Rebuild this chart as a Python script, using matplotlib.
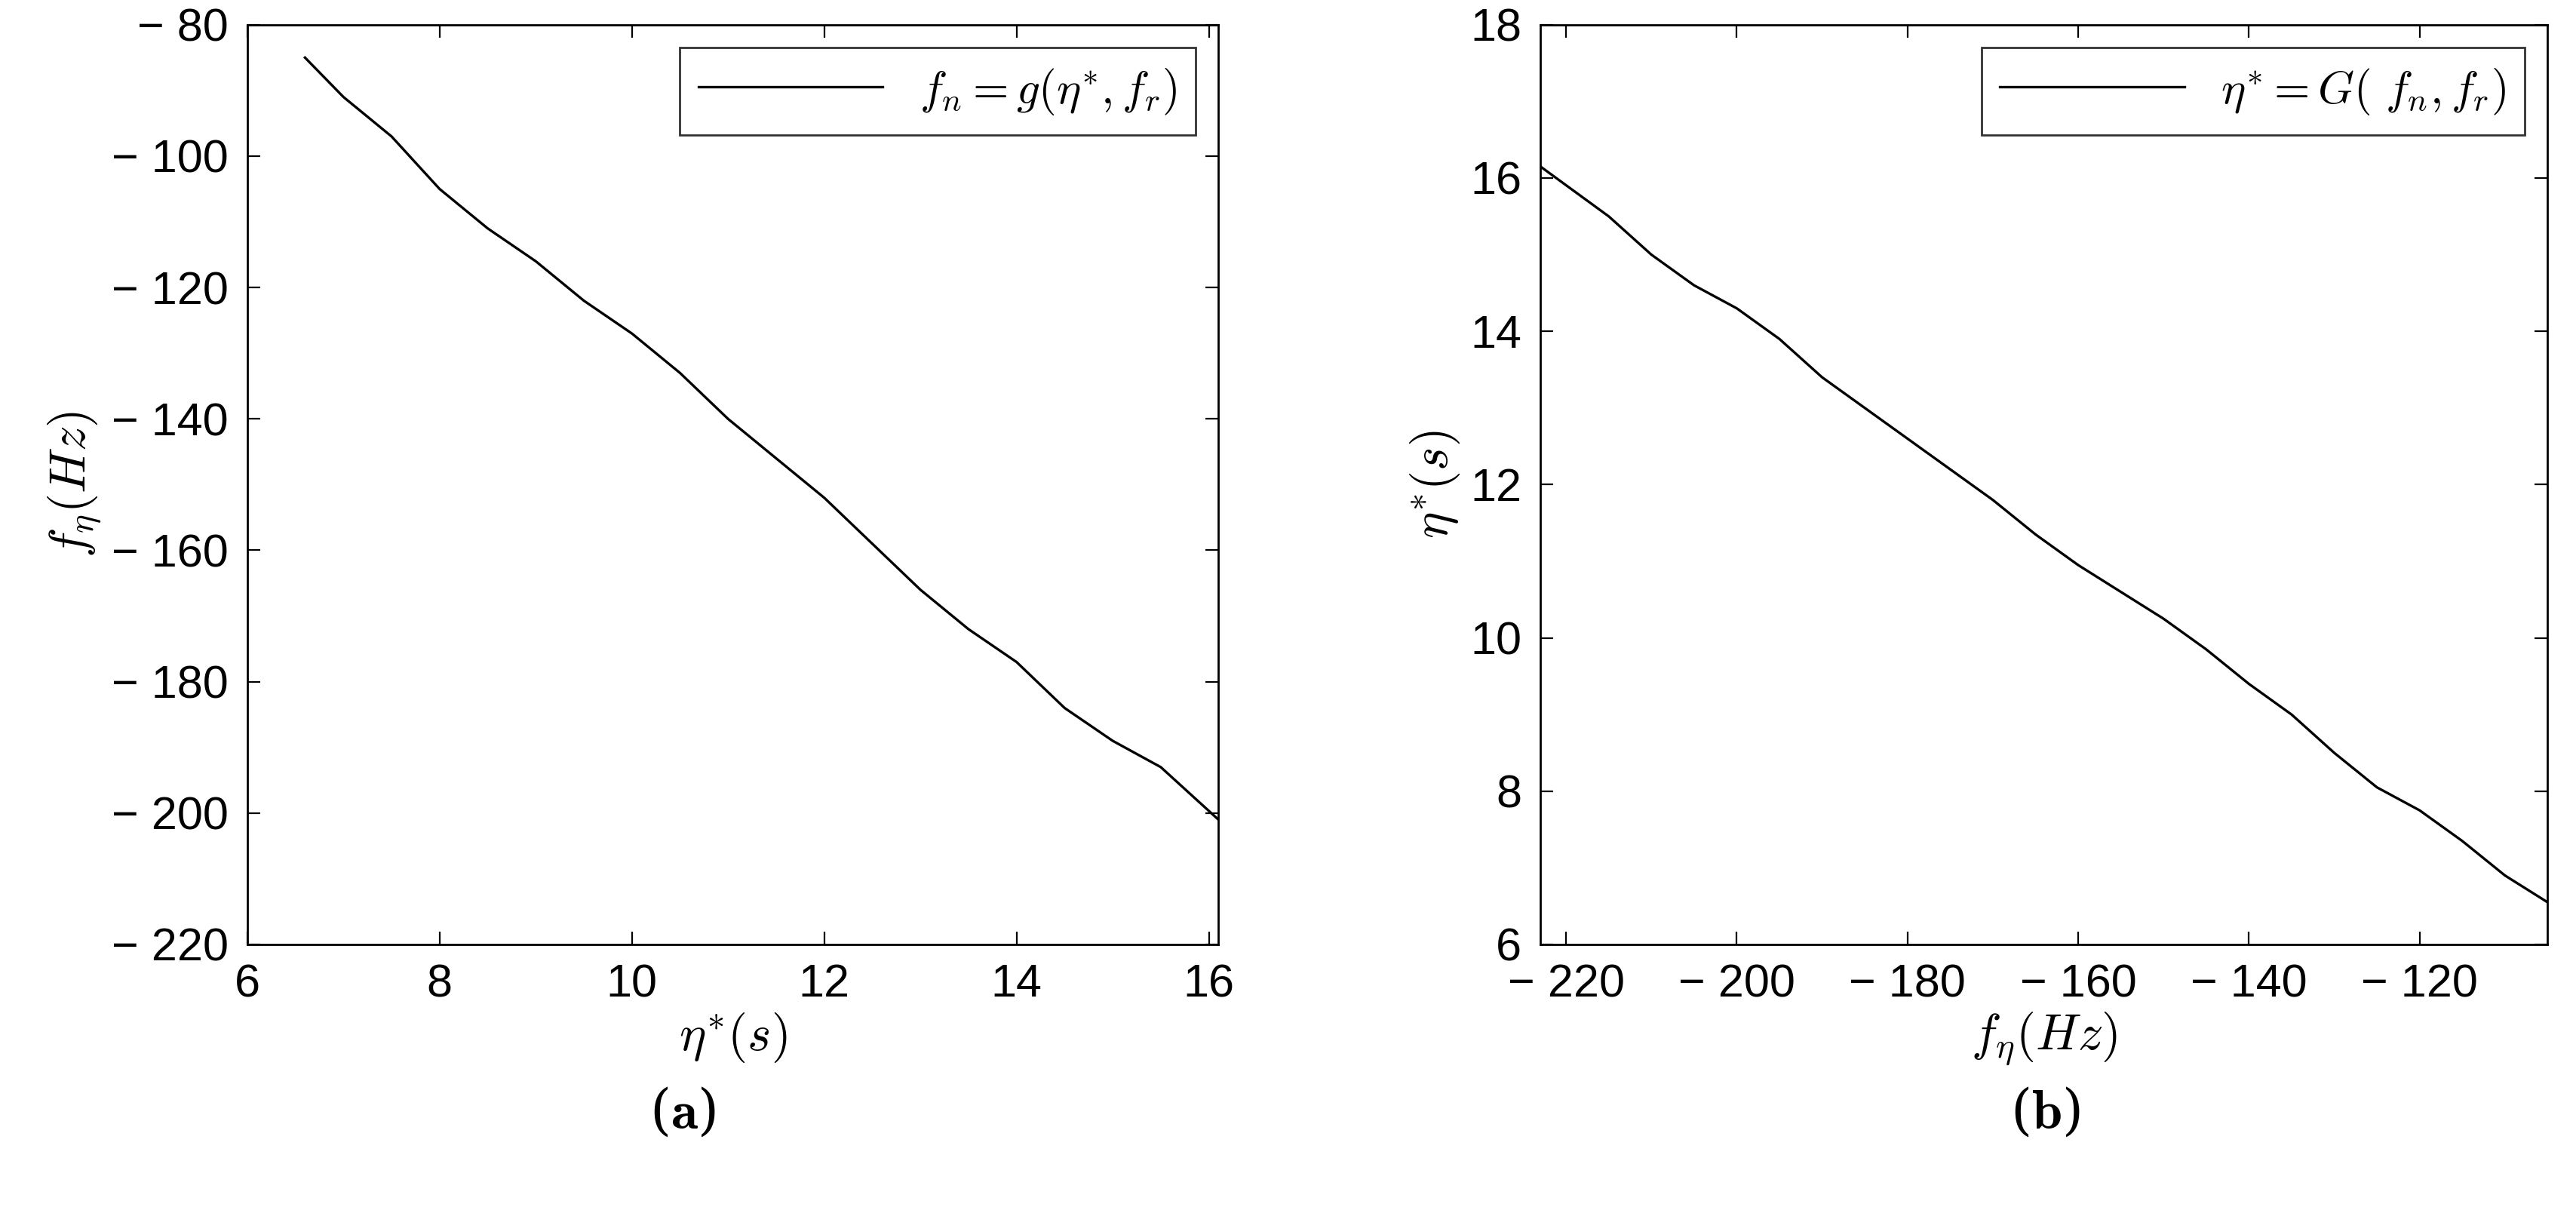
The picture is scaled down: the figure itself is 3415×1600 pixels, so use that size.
import matplotlib
matplotlib.use('Agg')
import matplotlib.pyplot as plt
from matplotlib.ticker import FuncFormatter

plt.rcParams['font.family'] = ['Liberation Sans', 'DejaVu Sans']
plt.rcParams['mathtext.fontset'] = 'cm'

# panel (a): f_n vs eta*
eta_a = [6.6, 7.0, 7.5, 8.0, 8.5, 9.0, 9.5, 10.0, 10.5, 11.0, 11.5, 12.0,
         12.5, 13.0, 13.5, 14.0, 14.5, 15.0, 15.5, 16.1]
fn_a = [-85, -91, -97, -105, -111, -116, -122, -127, -133, -140, -146, -152,
        -159, -166, -172, -177, -184, -189, -193, -201]

# panel (b): eta* vs f_n
fn_b = [-223, -215, -210, -205, -200, -195, -190, -185, -180, -175, -170, -165,
        -160, -155, -150, -145, -140, -135, -130, -125, -120, -115, -110, -105]
eta_b = [16.15, 15.5, 15.0, 14.6, 14.3, 13.9, 13.4, 13.0, 12.6, 12.2, 11.8, 11.35,
         10.95, 10.6, 10.25, 9.85, 9.4, 9.0, 8.5, 8.05, 7.75, 7.35, 6.9, 6.55]


def neg_fmt(v, pos):
    v = int(round(v))
    return '\u2212 %d' % -v if v < 0 else '%d' % v


fig = plt.figure(figsize=(17.075, 8), dpi=200)
ax1 = fig.add_axes([0.096, 0.2175, 0.377, 0.762])
ax2 = fig.add_axes([0.598, 0.2175, 0.391, 0.762])

fs = 22
ax1.plot(eta_a, fn_a, color='black', lw=1.2, label=r'$f_n = g(\eta^{*}, f_r)$')
ax1.set_xlim(6, 16.1)
ax1.set_ylim(-220, -80)
ax1.set_xticks([6, 8, 10, 12, 14, 16])
ax1.set_yticks(range(-220, -79, 20))
ax1.yaxis.set_major_formatter(FuncFormatter(neg_fmt))
ax1.set_xlabel(r'$\eta^{*}(s)$', fontsize=24, labelpad=2)
ax1.set_ylabel(r'$f_\eta(Hz)$', fontsize=24, labelpad=4)

ax2.plot(fn_b, eta_b, color='black', lw=1.2, label=r'$\eta^{*} = G(\ f_n, f_r)$')
ax2.set_xlim(-223, -105)
ax2.set_ylim(6, 18)
ax2.set_xticks(range(-220, -119, 20))
ax2.set_yticks(range(6, 19, 2))
ax2.xaxis.set_major_formatter(FuncFormatter(neg_fmt))
ax2.set_xlabel(r'$f_\eta(Hz)$', fontsize=24, labelpad=2)
ax2.set_ylabel(r'$\eta^{*}(s)$', fontsize=24, labelpad=4)

for ax in (ax1, ax2):
    ax.tick_params(labelsize=fs, direction='in', length=6, top=True, right=True, pad=9)
    for s in ax.spines.values():
        s.set_linewidth(1.0)
    leg = ax.legend(loc='upper right', fontsize=22, fancybox=False,
                    edgecolor='black', handlelength=4, borderaxespad=0.5)
    leg.get_frame().set_linewidth(1.0)

fig.text(0.265, 0.065, r'($\mathbf{a}$)', ha='center', fontsize=26, family='DejaVu Serif')
fig.text(0.794, 0.065, r'($\mathbf{b}$)', ha='center', fontsize=26, family='DejaVu Serif')

fig.savefig('out.png', dpi=200)
